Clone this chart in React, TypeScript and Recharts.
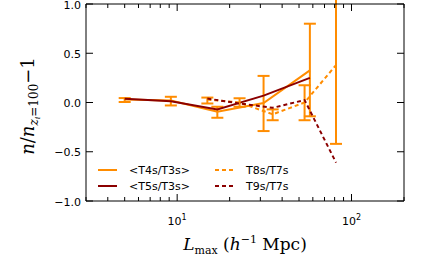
import React from "react";
import { ComposedChart, Line, XAxis, YAxis, ErrorBar, Label } from "recharts";

const ORANGE = "#ff8c00";
const DARKRED = "#8b0000";
const LEFT = 86;
const RIGHT = 404;
const TOP = 4;
const BOTTOM = 201;

// <T4s/T3s> and <T5s/T3s>
const lmaxA = [5, 9.2, 17, 31.3, 57.7];
const t4Ratio = [0.03, 0.02, -0.094, -0.005, 0.326];
const t4ErrLow = [0.025, 0.05, 0.061, 0.285, 0.466];
const t4ErrHigh = [0.015, 0.038, 0.051, 0.275, 0.474];
const t5Ratio = [0.037, 0.013, -0.07, 0.07, 0.25];

// T8s/T7s and T9s/T7s
const lmaxB = [14.9, 22.8, 35.3, 53.8, 81.5];
const t8Ratio = [0.03, 0.0, -0.12, 0.0, 0.38];
const t8ErrLow = [0.04, 0.043, 0.06, 0.18, 0.8];
const t8ErrHigh = [0.02, 0.043, 0.05, 0.175, 0.82];
const t9Ratio = [0.04, -0.01, -0.054, 0.025, -0.61];

const yTicks = [-1, -0.5, 0, 0.5, 1];
const xTicks = [3, 4, 5, 6, 7, 8, 9, 10, 20, 30, 40, 50, 60, 70, 80, 90, 100, 200];
const xMajor = [10, 100];

const t4Data = lmaxA.map((x, i) => ({ x, y: t4Ratio[i], err: [t4ErrLow[i], t4ErrHigh[i]] }));
const t5Data = lmaxA.map((x, i) => ({ x, y: t5Ratio[i] }));
const t8Data = lmaxB.map((x, i) => ({ x, y: t8Ratio[i], err: [t8ErrLow[i], t8ErrHigh[i]] }));
const t9Data = lmaxB.map((x, i) => ({ x, y: t9Ratio[i] }));

const SANS = "DejaVu Sans, sans-serif";
const SERIF = "DejaVu Serif, serif";

const BottomTick = (props: any) => {
  const { x, payload } = props;
  const major = xMajor.includes(payload.value);
  const exp = Math.round(Math.log10(payload.value));
  return (
    <g>
      <line x1={x} x2={x} y1={BOTTOM} y2={BOTTOM - (major ? 7 : 4)} stroke="#000" />
      {major && (
        <text x={x} y={225} textAnchor="middle" fontSize={11} fontFamily={SANS} fill="#000">
          10<tspan dy={-5} fontSize={8}>{exp}</tspan>
        </text>
      )}
    </g>
  );
};

const TopTick = (props: any) => {
  const { x, payload } = props;
  const major = xMajor.includes(payload.value);
  return <line x1={x} x2={x} y1={TOP} y2={TOP + (major ? 7 : 4)} stroke="#000" />;
};

const LeftTick = (props: any) => {
  const { y, payload } = props;
  const v = payload.value;
  const label = (v < 0 ? "\u2212" : "") + Math.abs(v).toFixed(1);
  return (
    <g>
      <line x1={LEFT} x2={LEFT + 7} y1={y} y2={y} stroke="#000" />
      <text x={81} y={y + 4.5} textAnchor="end" fontSize={11} fontFamily={SANS} fill="#000">
        {label}
      </text>
    </g>
  );
};

const RightTick = (props: any) => {
  const { y } = props;
  return <line x1={RIGHT} x2={RIGHT - 7} y1={y} y2={y} stroke="#000" />;
};

const YLabel = () => (
  <text
    x={34}
    y={106}
    transform="rotate(-90, 34, 106)"
    textAnchor="middle"
    fontFamily={SERIF}
    fontSize={18}
    fill="#000"
  >
    <tspan fontStyle="italic">n</tspan>
    <tspan>/</tspan>
    <tspan fontStyle="italic">n</tspan>
    <tspan fontStyle="italic" fontSize={12} dy={4}>z</tspan>
    <tspan fontStyle="italic" fontSize={8} dy={2}>i</tspan>
    <tspan fontSize={12} dy={-2}>=100</tspan>
    <tspan dy={-4}>{"\u2212"}1</tspan>
  </text>
);

const XLabel = () => (
  <text x={245} y={250} textAnchor="middle" fontFamily={SERIF} fontSize={17} fill="#000">
    <tspan fontStyle="italic">L</tspan>
    <tspan fontSize={11} dy={4}>max</tspan>
    <tspan dy={-4}> (</tspan>
    <tspan fontStyle="italic">h</tspan>
    <tspan fontSize={11} dy={-7}>{"\u2212"}1</tspan>
    <tspan dy={7}> Mpc)</tspan>
  </text>
);

const legendItems = [
  { label: "<T4s/T3s>", color: ORANGE, dash: undefined, col: 0, row: 0 },
  { label: "<T5s/T3s>", color: DARKRED, dash: undefined, col: 0, row: 1 },
  { label: "T8s/T7s", color: ORANGE, dash: "4 3", col: 1, row: 0 },
  { label: "T9s/T7s", color: DARKRED, dash: "4 3", col: 1, row: 1 },
];

const ChartLegend = () => (
  <g>
    {legendItems.map((it) => {
      const x0 = it.col === 0 ? 98 : 215;
      const y0 = it.row === 0 ? 170 : 186;
      return (
        <g key={it.label}>
          <line x1={x0} x2={x0 + 19} y1={y0} y2={y0} stroke={it.color} strokeWidth={2} strokeDasharray={it.dash} />
          <text x={x0 + 31} y={y0 + 4} fontSize={11} fontFamily={SANS} fill="#000">
            {it.label}
          </text>
        </g>
      );
    })}
  </g>
);

export default function App() {
  return (
    <div style={{ position: "absolute", left: 0, top: 0 }}>
      <ComposedChart width={425} height={264} margin={{ top: TOP - 1, right: 20, bottom: 0, left: 26 }}>
        <XAxis
          xAxisId="b"
          dataKey="x"
          type="number"
          scale="log"
          domain={[3, 200]}
          allowDataOverflow
          ticks={xTicks}
          interval={0}
          height={63}
          tickLine={false}
          axisLine={{ stroke: "#000" }}
          tick={<BottomTick />}
        >
          <Label content={() => <XLabel />} />
        </XAxis>
        <XAxis
          xAxisId="t"
          orientation="top"
          dataKey="x"
          type="number"
          scale="log"
          domain={[3, 200]}
          allowDataOverflow
          ticks={xTicks}
          interval={0}
          height={1}
          tickLine={false}
          axisLine={{ stroke: "#000" }}
          tick={<TopTick />}
        />
        <YAxis
          yAxisId="l"
          type="number"
          domain={[-1, 1]}
          allowDataOverflow
          ticks={yTicks}
          interval={0}
          width={60}
          tickLine={false}
          axisLine={{ stroke: "#000" }}
          tick={<LeftTick />}
        >
          <Label content={() => <YLabel />} />
        </YAxis>
        <YAxis
          yAxisId="r"
          orientation="right"
          type="number"
          domain={[-1, 1]}
          allowDataOverflow
          ticks={yTicks}
          interval={0}
          width={1}
          tickLine={false}
          axisLine={{ stroke: "#000" }}
          tick={<RightTick />}
        />
        <Line
          xAxisId="b"
          yAxisId="l"
          data={t4Data}
          dataKey="y"
          stroke={ORANGE}
          strokeWidth={2}
          dot={false}
          isAnimationActive={false}
        >
          <ErrorBar dataKey="err" direction="y" width={6} stroke={ORANGE} strokeWidth={2} isAnimationActive={false} />
        </Line>
        <Line
          xAxisId="b"
          yAxisId="l"
          data={t5Data}
          dataKey="y"
          stroke={DARKRED}
          strokeWidth={2}
          dot={false}
          isAnimationActive={false}
        />
        <Line
          xAxisId="b"
          yAxisId="l"
          data={t8Data}
          dataKey="y"
          stroke={ORANGE}
          strokeWidth={2}
          strokeDasharray="4 3"
          dot={false}
          isAnimationActive={false}
        >
          <ErrorBar dataKey="err" direction="y" width={6} stroke={ORANGE} strokeWidth={2} isAnimationActive={false} />
        </Line>
        <Line
          xAxisId="b"
          yAxisId="l"
          data={t9Data}
          dataKey="y"
          stroke={DARKRED}
          strokeWidth={2}
          strokeDasharray="4 3"
          dot={false}
          isAnimationActive={false}
        />
        <ChartLegend />
      </ComposedChart>
    </div>
  );
}
